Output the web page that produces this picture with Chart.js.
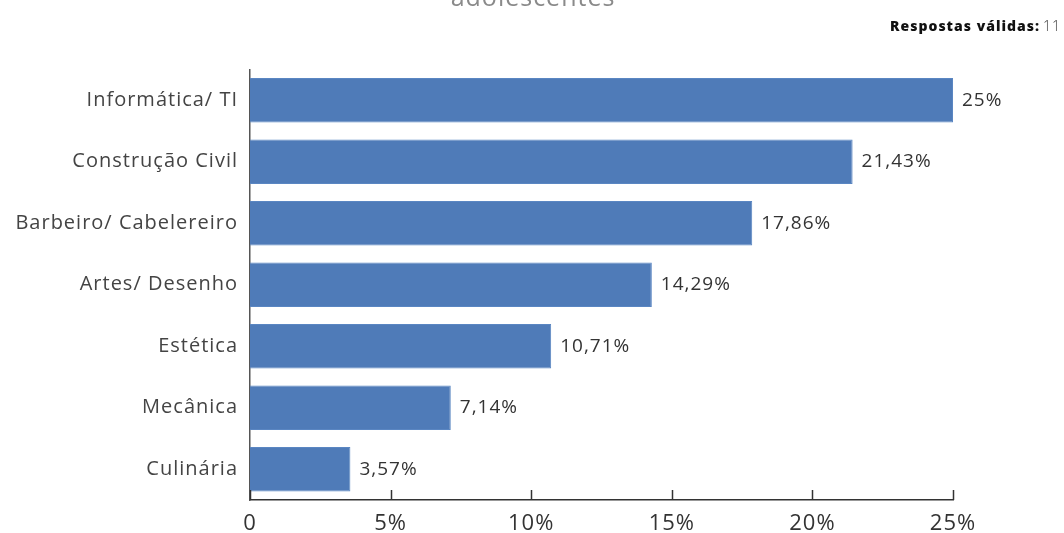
<!DOCTYPE html>
<html>
<head>
<meta charset="utf-8">
<script src="https://cdn.jsdelivr.net/npm/chart.js@4"></script>
<style>
  html, body { margin: 0; padding: 0; background: #fff; }
  #wrap { width: 1064px; height: 533px; }
</style>
</head>
<body>
<div id="wrap"><canvas id="c" width="1064" height="533"></canvas></div>
<script>
const categories = ['Informática/ TI', 'Construção Civil', 'Barbeiro/ Cabelereiro', 'Artes/ Desenho', 'Estética', 'Mecânica', 'Culinária'];
const percentages = [25, 21.43, 17.86, 14.29, 10.71, 7.14, 3.57];
const xTicks = [0, 5, 10, 15, 20, 25];
const titleText = 'adolescentes';
const answersLabel = 'Respostas válidas:';
const answersCount = '11';

const FONT = '"Open Sans", sans-serif';
const fmt = v => String(v).replace('.', ',') + '%';

// Slightly tracked-out lettering for every text on the canvas
const tracking = {
  id: 'tracking',
  beforeDraw(chart) { chart.ctx.letterSpacing = '1px'; }
};

// Value labels at the end of each bar, ticks pointing up from the x axis, header texts
const decor = {
  id: 'decor',
  afterDraw(chart) {
    const ctx = chart.ctx;
    const xs = chart.scales.x;
    const area = chart.chartArea;
    ctx.save();
    ctx.letterSpacing = '1px';
    // x-axis ticks drawn inward
    ctx.strokeStyle = '#333';
    ctx.lineWidth = 1.5;
    xTicks.forEach(t => {
      const px = Math.round(xs.getPixelForValue(t)) + 0.5;
      ctx.beginPath();
      ctx.moveTo(px, area.bottom - 10);
      ctx.lineTo(px, area.bottom);
      ctx.stroke();
    });
    // value labels
    ctx.fillStyle = '#333';
    ctx.font = '19px ' + FONT;
    ctx.textBaseline = 'middle';
    ctx.textAlign = 'left';
    const meta = chart.getDatasetMeta(0);
    meta.data.forEach((bar, i) => {
      ctx.fillText(fmt(percentages[i]), bar.x + 9, bar.y);
    });
    // title (top portion runs off the canvas)
    ctx.fillStyle = '#8a8a8a';
    ctx.font = '25px ' + FONT;
    ctx.textAlign = 'center';
    ctx.textBaseline = 'alphabetic';
    ctx.fillText(titleText, 533, 6);
    // valid answers note
    ctx.textAlign = 'right';
    ctx.textBaseline = 'middle';
    ctx.font = '300 14px ' + FONT;
    ctx.fillStyle = '#333';
    const countW = ctx.measureText(answersCount).width;
    ctx.fillText(answersCount, 1061, 27);
    ctx.font = '800 14px ' + FONT;
    ctx.fillStyle = '#111';
    ctx.fillText(answersLabel, 1061 - countW - 3, 27);
    ctx.restore();
    ctx.letterSpacing = '0px';
  }
};

new Chart(document.getElementById('c'), {
  type: 'bar',
  data: {
    labels: categories,
    datasets: [{
      data: percentages,
      backgroundColor: '#4f7bb8',
      borderColor: '#5a86c2',
      borderWidth: 1,
      barPercentage: 0.72,
      categoryPercentage: 1
    }]
  },
  options: {
    indexAxis: 'y',
    responsive: false,
    animation: false,
    devicePixelRatio: 1,
    layout: { padding: { top: 69.5, right: 111, left: 0, bottom: 0 } },
    plugins: { legend: { display: false }, tooltip: { enabled: false }, title: { display: false } },
    scales: {
      x: {
        min: 0, max: 25,
        afterFit(s) { s.height = 33; },
        afterBuildTicks(s) { s.ticks = xTicks.map(v => ({ value: v })); },
        grid: { display: false, drawTicks: false },
        border: { display: true, color: '#333', width: 1.5 },
        ticks: {
          padding: 11,
          color: '#333',
          font: { family: FONT, size: 22 },
          callback: v => v === 0 ? '0' : v + '%'
        }
      },
      y: {
        afterFit(s) { s.width = 250; },
        grid: { display: false, drawTicks: false },
        border: { display: true, color: '#555', width: 1.5 },
        ticks: {
          padding: 12,
          color: '#444',
          font: { family: FONT, size: 20 }
        }
      }
    }
  },
  plugins: [tracking, decor]
});
</script>
</body>
</html>
